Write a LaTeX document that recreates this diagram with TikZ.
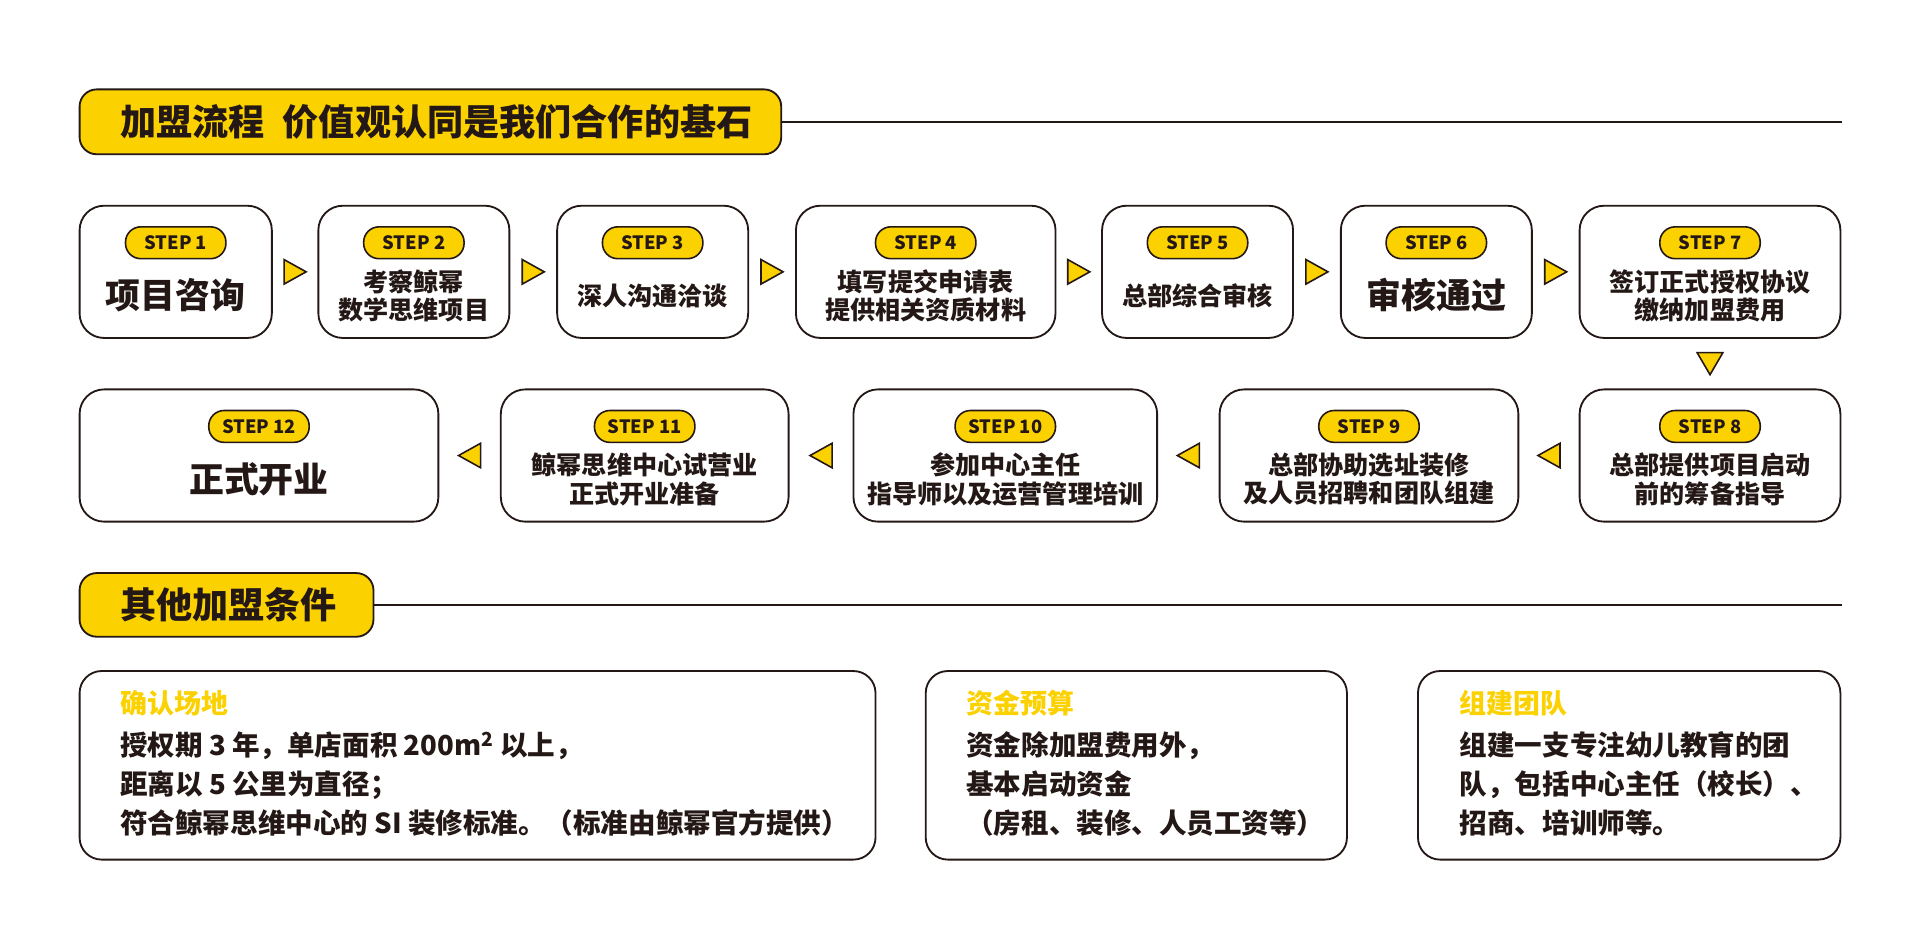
\documentclass[tikz,border=0pt]{standalone}
\usepackage{fontspec}
\setmainfont{Noto Sans CJK SC}
\usetikzlibrary{calc}
\definecolor{yl}{RGB}{252,209,0}
\definecolor{dk}{RGB}{35,24,21}
\tikzset{
 stepbox/.style={draw=dk, line width=1.5pt, rounded corners=20pt, fill=white, inner sep=0pt},
 pill/.style={draw=dk, fill=yl, line width=1.3pt, rounded corners=12.5pt, minimum width=82pt, minimum height=26pt, inner sep=0pt, font=\fontsize{15}{15}\selectfont\bfseries, text=dk},
 bigtxt/.style={font=\fontsize{28.5}{30}\selectfont\bfseries, text=dk, inner sep=0pt},
 stxt/.style={font=\fontsize{20.5}{23}\selectfont\bfseries, text=dk, align=center, inner sep=0pt},
 trist/.style={draw=dk, fill=yl, line width=1.3pt, line join=miter},
 rtri/.pic={\draw[trist] (-9,-10) -- (9,0) -- (-9,10) -- cycle;},
 ltri/.pic={\draw[trist] (9,-10) -- (-9,0) -- (9,10) -- cycle;},
 dtri/.pic={\draw[trist] (-10.5,-9) -- (10.5,-9) -- (0,9) -- cycle;},
 banner/.style={draw=dk, fill=yl, line width=1.5pt, rounded corners=14pt, inner sep=0pt},
 htitle/.style={font=\fontsize{29.5}{31}\selectfont\bfseries, text=dk, anchor=base west, inner sep=0pt},
 rule/.style={draw=dk, line width=1.5pt},
 card/.style={draw=dk, line width=1.5pt, rounded corners=18pt, inner sep=0pt},
 chead/.style={font=\fontsize{22}{24}\selectfont\bfseries, text=yl, anchor=base west, inner sep=0pt},
 cbody/.style={font=\fontsize{22.5}{24}\selectfont\bfseries, text=dk, anchor=base west, inner sep=0pt},
}
\begin{document}
\begin{tikzpicture}[x=1pt,y=-1pt]
\useasboundingbox[fill=white] (0,0) rectangle (1568,776);

% ---- section 1 header
\node[banner, minimum width=573pt, minimum height=53pt] (h1) at (351.5,99.5) {};
\node[htitle] (h1t) at (98,110.5) {加盟流程\hspace{0.5em}价值观认同是我们合作的基石};
\coordinate (h1end) at (1504,99.5);
\draw[rule] (h1.east) -- (h1end);

% ---- row 1
\node[stepbox, minimum width=157pt, minimum height=108pt] (s1) at (143.5,222) {};
\node[stepbox, minimum width=156pt, minimum height=108pt] (s2) at (338,222) {};
\node[stepbox, minimum width=156pt, minimum height=108pt] (s3) at (533,222) {};
\node[stepbox, minimum width=212pt, minimum height=108pt] (s4) at (756,222) {};
\node[stepbox, minimum width=156pt, minimum height=108pt] (s5) at (978,222) {};
\node[stepbox, minimum width=156pt, minimum height=108pt] (s6) at (1173,222) {};
\node[stepbox, minimum width=213pt, minimum height=108pt] (s7) at (1396.5,222) {};
% ---- row 2
\node[stepbox, minimum width=213pt, minimum height=108pt] (s8) at (1396.5,372) {};
\node[stepbox, minimum width=244pt, minimum height=108pt] (s9) at (1118,372) {};
\node[stepbox, minimum width=248pt, minimum height=108pt] (s10) at (821,372) {};
\node[stepbox, minimum width=235pt, minimum height=108pt] (s11) at (526.5,372) {};
\node[stepbox, minimum width=293pt, minimum height=108pt] (s12) at (211.5,372) {};

% ---- pills
\foreach \i in {1,...,12}{
  \node[pill] (p\i) at ($(s\i.north)+(0,31)$) {STEP \i};
}

% ---- step texts
\node[bigtxt] (t1) at ($(s1.center)+(0,19)$) {项目咨询};
\node[stxt] (t2) at ($(s2.center)+(0,19.5)$) {考察鲸幂\\数学思维项目};
\node[stxt] (t3) at ($(s3.center)+(0,19.5)$) {深人沟通洽谈};
\node[stxt] (t4) at ($(s4.center)+(0,19.5)$) {填写提交申请表\\提供相关资质材料};
\node[stxt] (t5) at ($(s5.center)+(0,19.5)$) {总部综合审核};
\node[bigtxt] (t6) at ($(s6.center)+(0,19)$) {审核通过};
\node[stxt] (t7) at ($(s7.center)+(0,19.5)$) {签订正式授权协议\\缴纳加盟费用};
\node[stxt] (t8) at ($(s8.center)+(0,19.5)$) {总部提供项目启动\\前的筹备指导};
\node[stxt] (t9) at ($(s9.center)+(0,19.5)$) {总部协助选址装修\\及人员招聘和团队组建};
\node[stxt] (t10) at ($(s10.center)+(0,19.5)$) {参加中心主任\\指导师以及运营管理培训};
\node[stxt] (t11) at ($(s11.center)+(0,19.5)$) {鲸幂思维中心试营业\\正式开业准备};
\node[bigtxt] (t12) at ($(s12.center)+(0,19)$) {正式开业};

% ---- arrow markers
\pic at ($(s1.east)!0.5!(s2.west)$) {rtri};
\pic at ($(s2.east)!0.5!(s3.west)$) {rtri};
\pic at ($(s3.east)!0.5!(s4.west)$) {rtri};
\pic at ($(s4.east)!0.5!(s5.west)$) {rtri};
\pic at ($(s5.east)!0.5!(s6.west)$) {rtri};
\pic at ($(s6.east)!0.5!(s7.west)$) {rtri};
\pic at ($(s7.south)!0.5!(s8.north)$) {dtri};
\pic at ($(s8.west)!0.5!(s9.east)$) {ltri};
\pic at ($(s9.west)!0.5!(s10.east)$) {ltri};
\pic at ($(s10.west)!0.5!(s11.east)$) {ltri};
\pic at ($(s11.west)!0.5!(s12.east)$) {ltri};

% ---- section 2 header
\node[banner, minimum width=240pt, minimum height=52pt] (h2) at (185,494) {};
\node[htitle] (h2t) at (98,505) {其他加盟条件};
\coordinate (h2end) at (1504,494);
\draw[rule] (h2.east) -- (h2end);

% ---- condition cards
\node[card, minimum width=650pt, minimum height=154pt] (cA) at (390,625) {};
\node[card, minimum width=344pt, minimum height=154pt] (cB) at (928,625) {};
\node[card, minimum width=345pt, minimum height=154pt] (cC) at (1330.5,625) {};

\node[chead] (aH) at (98,583) {确认场地};
\node[cbody] (a1) at (98,617) {授权期 3 年，单店面积 200m\textsuperscript{2} 以上，};
\node[cbody] (a2) at (98,649) {距离以 5 公里为直径；};
\node[cbody] (a3) at (98,681) {符合鲸幂思维中心的 SI 装修标准。（标准由鲸幂官方提供）};

\node[chead] (bH) at (789,583) {资金预算};
\node[cbody] (b1) at (789,617) {资金除加盟费用外，};
\node[cbody] (b2) at (789,649) {基本启动资金};
\node[cbody] (b3) at (789,681) {（房租、装修、人员工资等）};

\node[chead] (cH) at (1192,583) {组建团队};
\node[cbody] (c1) at (1192,617) {组建一支专注幼儿教育的团};
\node[cbody] (c2) at (1192,649) {队，包括中心主任（校长）、};
\node[cbody] (c3) at (1192,681) {招商、培训师等。};
\end{tikzpicture}
\end{document}
